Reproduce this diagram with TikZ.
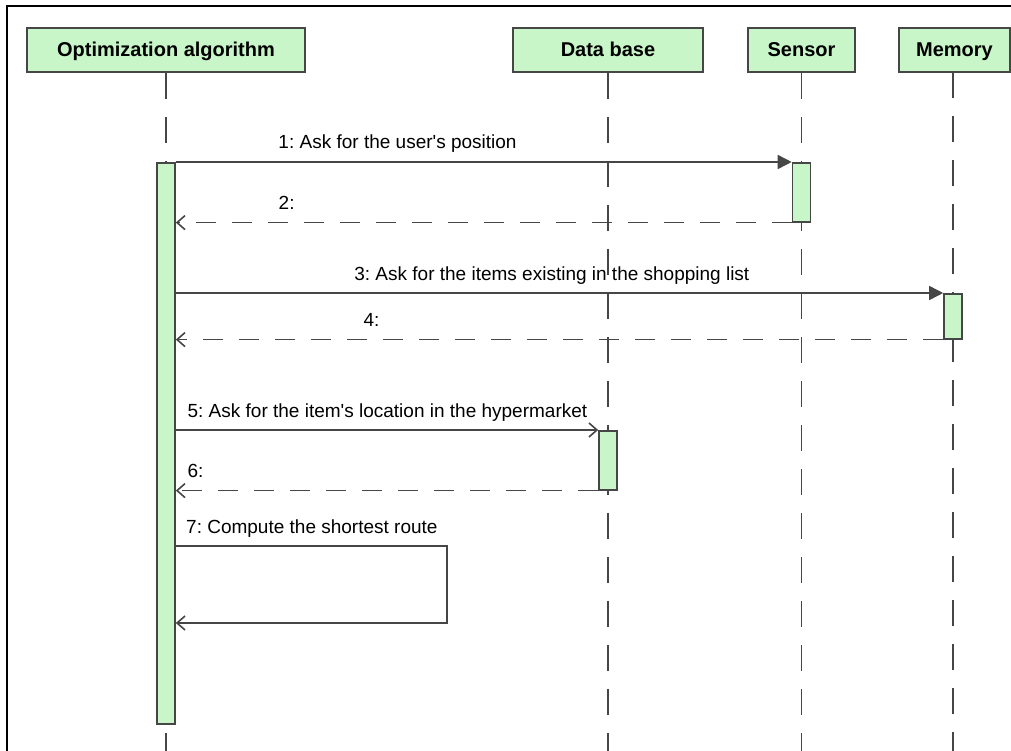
\documentclass[tikz,border=0pt]{standalone}
\usepackage{fontspec}
\setmainfont{Liberation Sans}
\usepackage{tikz}
\usetikzlibrary{arrows.meta}

\definecolor{barfill}{RGB}{200,246,200}
\definecolor{lineg}{RGB}{70,70,70}
\frenchspacing

\begin{document}
\begin{tikzpicture}[x=1pt,y=-1pt,
    head/.style={draw=lineg,fill=barfill,line width=1.6pt,minimum height=44pt,inner sep=0pt,text height=14pt,text depth=0pt,font=\fontsize{20}{24}\selectfont\bfseries},
    bar/.style={draw=lineg,fill=barfill,line width=1.6pt,minimum width=18pt,inner sep=0pt,anchor=north},
    life/.style={draw=lineg,line width=1.6pt,dash pattern=on 26pt off 18pt},
    call/.style={draw=lineg,line width=1.6pt,-{Triangle[length=14pt,width=14pt]}},
    ask/.style={draw=lineg,line width=1.6pt,-{Straight Barb[length=8pt,width=14pt]}},
    reply/.style={draw=lineg,line width=1.6pt,dash pattern=on 20pt off 16pt,-{Straight Barb[length=8pt,width=14pt]}},
    msg/.style={anchor=base,yshift=13pt,inner sep=0pt,font=\fontsize{19}{22}\selectfont}]
		\useasboundingbox (0,0) rectangle (1011,751);
		\draw[line width=2.5pt] (7,751) -- (7,6) -- (1011,6);
		% lifelines
		\node[head,minimum width=278pt] (opt) at (166,50) {Optimization algorithm};
		\node[head,minimum width=190pt] (db) at (608,50) {Data base};
		\node[head,minimum width=107pt] (sens) at (801.5,50) {Sensor};
		\node[head,minimum width=111pt] (mem) at (954.5,50) {Memory};
		\coordinate (optend) at (166,751);
		\coordinate (dbend) at (608,751);
		\coordinate (sensend) at (801.5,751);
		\coordinate (memend) at (953,751);
		\draw[life] (opt.south) -- (optend);
		\draw[life] (db.south) -- (dbend);
		\draw[life] (sens.south) -- (sensend);
		\draw[life] (953,72) -- (memend);
		% activations
		\node[bar,minimum height=561pt] (optbar) at (166,162) {};
		\node[bar,minimum height=59pt] (sensbar) at (801.5,162) {};
		\node[bar,minimum height=45pt] (membar) at (953,293) {};
		\node[bar,minimum height=59pt] (dbbar) at (608,430) {};
		% messages
		\draw[call] (optbar.north east) -- (sensbar.north west)
			node[msg,pos=.36] {1: Ask for the user\textquotesingle s position};
		\draw[reply] (sensbar.south west) -- (optbar.east |- sensbar.south)
			node[msg,pos=.82] {2:};
		\draw[call] (optbar.east |- membar.north) -- (membar.north west)
			node[msg,pos=.49] {3: Ask for the items existing in the shopping list};
		\draw[reply] (membar.south west) -- (optbar.east |- membar.south)
			node[msg,pos=.745] {4:};
		\draw[ask] (optbar.east |- dbbar.north) -- (dbbar.north west)
			node[msg,pos=0,anchor=base west,xshift=11pt] {5: Ask for the item\textquotesingle s location in the hypermarket};
		\draw[reply] (dbbar.south west) -- (optbar.east |- dbbar.south)
			node[msg,pos=1,anchor=base west,xshift=11pt] {6:};
		\coordinate (loopa) at (447,546);
		\coordinate (loopb) at (447,623);
		\draw[ask] (optbar.east |- loopa) -- (loopa) -- (loopb) -- (optbar.east |- loopb);
		\node[msg,anchor=base west] (lbl7) at (186,546) {7: Compute the shortest route};
	\end{tikzpicture}
\end{document}
